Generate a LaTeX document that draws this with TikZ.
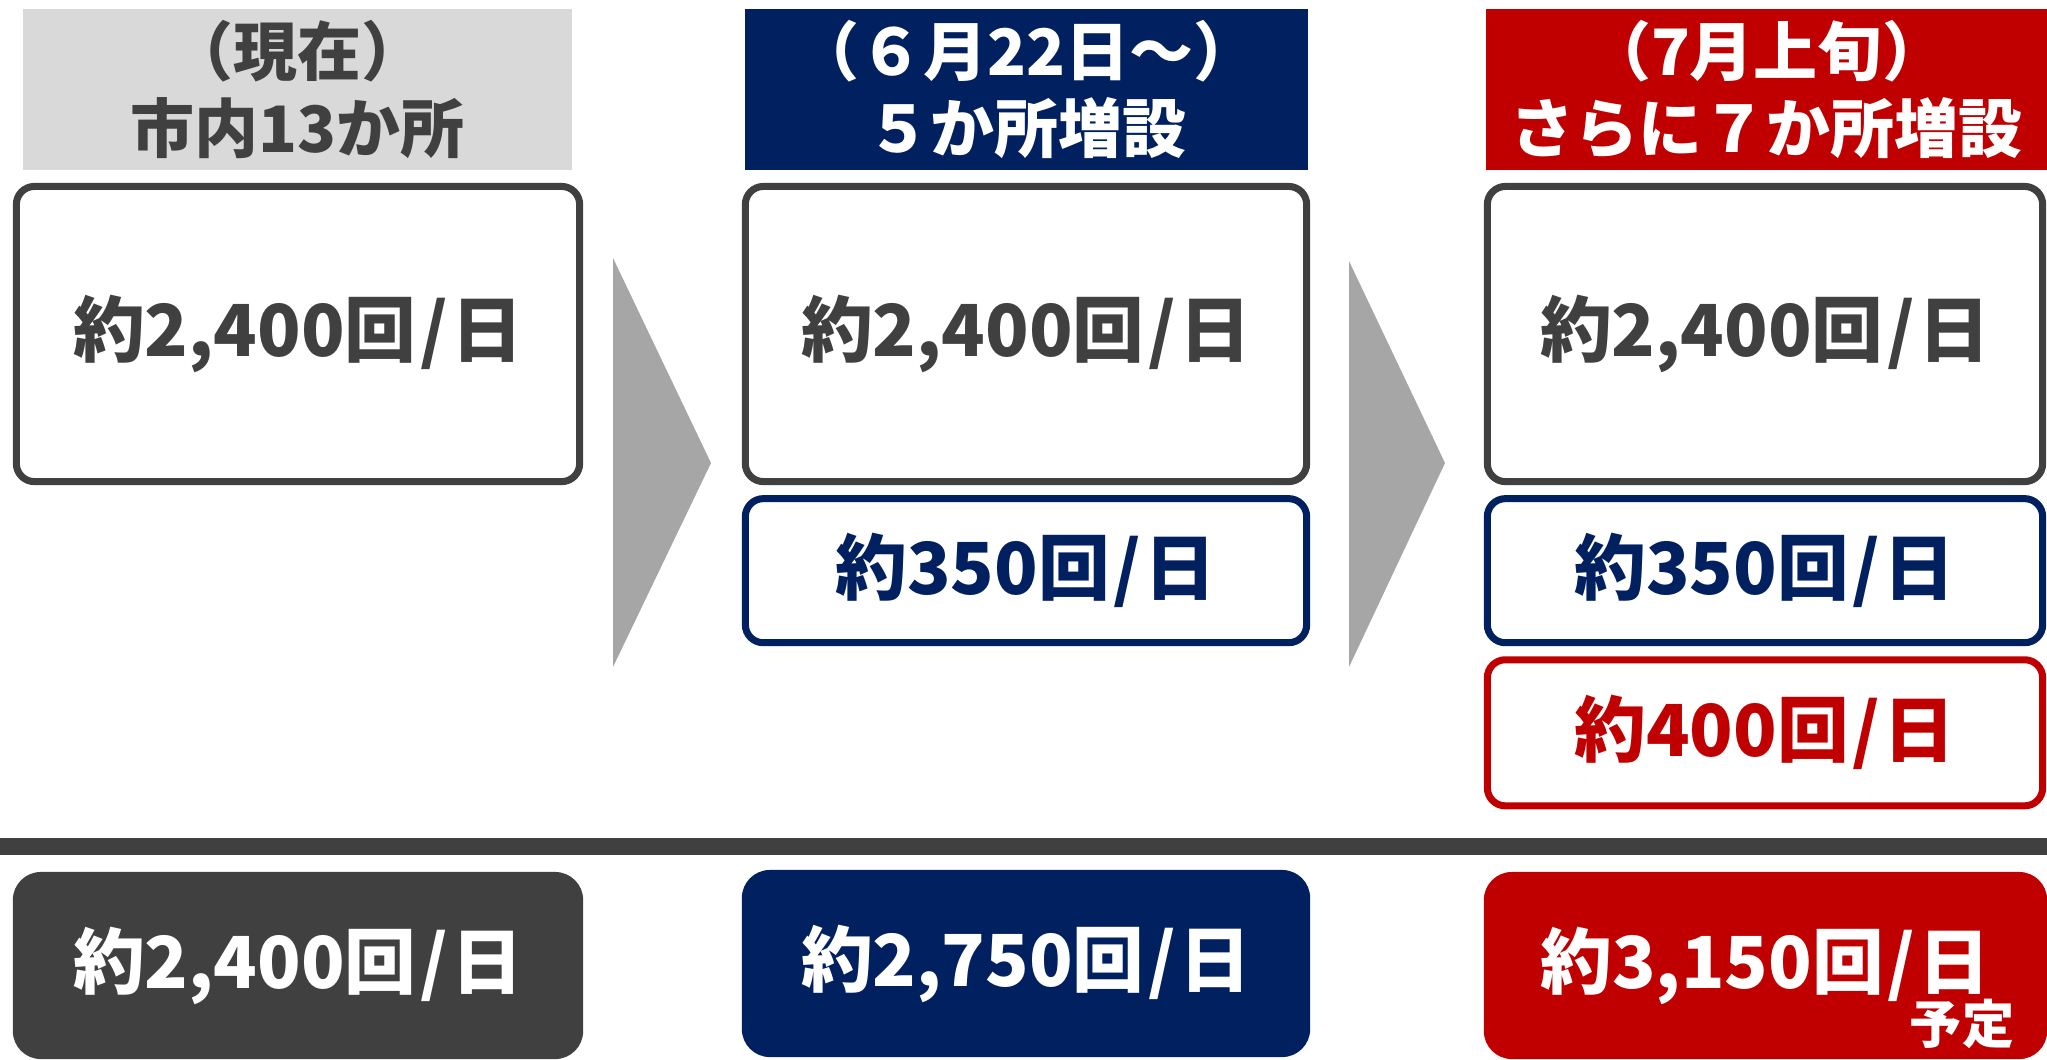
\documentclass[tikz,border=0pt]{standalone}
\usepackage{fontspec}
\setmainfont{Noto Sans CJK JP}
\usetikzlibrary{positioning}
\definecolor{textgray}{HTML}{404040}
\definecolor{hdrgray}{HTML}{D9D9D9}
\definecolor{arrowgray}{HTML}{A6A6A6}
\definecolor{navy}{HTML}{002060}
\definecolor{deepred}{HTML}{C00000}
\newcommand{\perday}{\kern0.05em/\kern0.05em}

\begin{document}
\begin{tikzpicture}[x=0.01cm, y=-0.01cm,
    header/.style={inner sep=0pt, minimum height=1.61cm, align=center,
      font=\fontsize{18.2}{21.9}\selectfont\bfseries},
    countbox/.style={draw, line width=2pt, rounded corners=0.18cm, fill=white,
      inner sep=0pt, font=\fontsize{20.4}{24}\selectfont\bfseries},
    totalbox/.style={rounded corners=0.28cm, inner sep=0pt, text=white,
      minimum height=1.87cm, font=\fontsize{20.4}{24}\selectfont\bfseries}]
  \useasboundingbox (0,0) rectangle (2047,1059);
  % Headers
  \node[header, fill=hdrgray, text=textgray, minimum width=5.49cm] (hdrnow) at (297.5,89.5) {（現在）\\市内13か所};
  \node[header, fill=navy, text=white, minimum width=5.63cm] (hdrjune) at (1026.5,89.5) {（６月22日～）\\５か所増設};
  \node[header, fill=deepred, text=white, minimum width=5.61cm] (hdrjuly) at (1766.5,89.5) {（7月上旬）\\さらに７か所増設};
  % Current sites
  \node[countbox, draw=textgray, text=textgray, minimum width=5.63cm, minimum height=2.95cm] (nowbase) at (298,334) {約2,400回\perday 日};
  \node[countbox, draw=textgray, text=textgray, minimum width=5.61cm, minimum height=2.95cm] (junebase) at (1026,334) {約2,400回\perday 日};
  \node[countbox, draw=textgray, text=textgray, minimum width=5.55cm, minimum height=2.95cm] (julybase) at (1765,334) {約2,400回\perday 日};
  % Added sites
  \node[countbox, draw=navy, text=navy, minimum width=5.61cm, minimum height=1.44cm, below=0.1cm of junebase] (juneadd) {約350回\perday 日};
  \node[countbox, draw=navy, text=navy, minimum width=5.55cm, minimum height=1.44cm, below=0.1cm of julybase] (julyadd) {約350回\perday 日};
  \node[countbox, draw=deepred, text=deepred, minimum width=5.55cm, minimum height=1.46cm, below=0.1cm of julyadd] (julymore) {約400回\perday 日};
  % Chevrons
  \fill[arrowgray] (613,258) -- (711,463) -- (613,667) -- cycle;
  \fill[arrowgray] (1349,261) -- (1445,463) -- (1349,667) -- cycle;
  % Divider
  \fill[textgray] (0,838) rectangle (2047,855);
  % Totals
  \node[totalbox, fill=textgray, minimum width=5.70cm] (nowsum) at (298,965.5) {約2,400回\perday 日};
  \node[totalbox, fill=navy, minimum width=5.68cm] (junesum) at (1026,963.5) {約2,750回\perday 日};
  \node[totalbox, fill=deepred, minimum width=5.63cm] (julysum) at (1765.5,965.5) {約3,150回\perday 日};
  \node[text=white, inner sep=0pt, font=\fontsize{14.8}{17}\selectfont\bfseries] (julynote) at (1962,1024) {予定};
\end{tikzpicture}
\end{document}
